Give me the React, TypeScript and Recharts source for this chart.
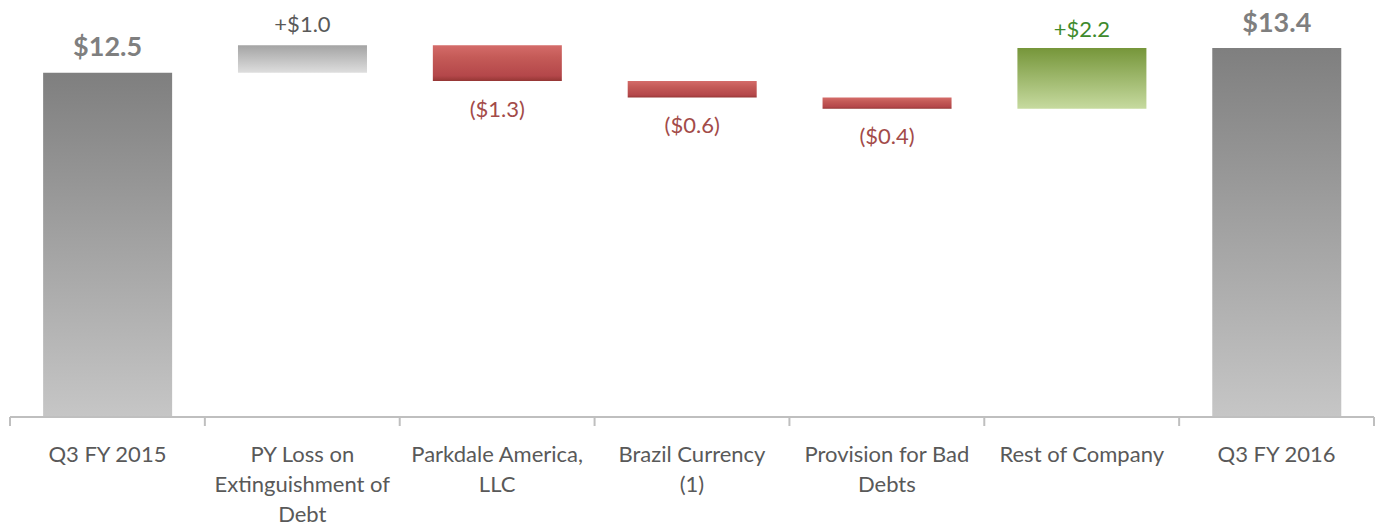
import React from "react";
import { BarChart, Bar, XAxis, YAxis, Cell, LabelList } from "recharts";

const categories = [
  "Q3 FY 2015",
  "PY Loss on Extinguishment of Debt",
  "Parkdale America, LLC",
  "Brazil Currency (1)",
  "Provision for Bad Debts",
  "Rest of Company",
  "Q3 FY 2016",
];
const tickLines: string[][] = [
  ["Q3 FY 2015"],
  ["PY Loss on", "Extinguishment of", "Debt"],
  ["Parkdale America,", "LLC"],
  ["Brazil Currency", "(1)"],
  ["Provision for Bad", "Debts"],
  ["Rest of Company"],
  ["Q3 FY 2016"],
];
const values = [12.5, 1.0, -1.3, -0.6, -0.4, 2.2, 13.4];
const kinds = ["total", "incGray", "dec", "dec", "dec", "incGreen", "total"];

const W = 1377;
const H = 531;
const M = { top: 4, right: 3, left: 10, bottom: 0 };
const BW = (W - M.left - M.right) / categories.length;

// Build waterfall rows
let running = 0;
const data = categories.map((name, i) => {
  const v = values[i];
  let base = 0;
  let delta = 0;
  if (kinds[i] === "total") {
    base = 0;
    delta = v;
    running = v;
  } else {
    const start = running;
    const end = running + v;
    base = Math.min(start, end);
    delta = Math.abs(v);
    running = end;
  }
  return { name, base, delta, idx: i };
});

const fills: Record<string, string> = {
  total: "url(#gTotal)",
  incGray: "url(#gGray)",
  dec: "url(#gRed)",
  incGreen: "url(#gGreen)",
};

const fmt = (v: number, kind: string) => {
  const a = Math.abs(v).toFixed(1);
  if (kind === "total") return `$${a}`;
  if (v < 0) return `($${a})`;
  return `+$${a}`;
};

const labelStyle: Record<string, { fill: string; size: number; weight: number; off: number }> = {
  total: { fill: "#7f7f7f", size: 27, weight: 700, off: -27 },
  incGray: { fill: "#595959", size: 22, weight: 400, off: -22 },
  dec: { fill: "#a34b49", size: 22, weight: 400, off: 27 },
  incGreen: { fill: "#3e8a2c", size: 22, weight: 400, off: -20 },
};

const ValueLabel = (props: any) => {
  const { x, y, width, height, index } = props;
  const kind = kinds[index];
  const s = labelStyle[kind];
  const cx = x + width / 2;
  const cy = s.off < 0 ? y + s.off : y + height + s.off;
  return (
    <text
      x={cx}
      y={cy}
      textAnchor="middle"
      dominantBaseline="central"
      fill={s.fill}
      fontSize={s.size}
      fontWeight={s.weight}
      fontFamily="Lato"
    >
      {fmt(values[index], kind)}
    </text>
  );
};

const Tick = (props: any) => {
  const { x, y, payload } = props;
  const i = payload.index;
  const lines = tickLines[i];
  const left = x - BW / 2;
  const right = x + BW / 2;
  return (
    <g>
      <line x1={left} y1={y} x2={left} y2={y + 9} stroke="#bfbfbf" strokeWidth={2} />
      {i === categories.length - 1 && (
        <line x1={right} y1={y} x2={right} y2={y + 9} stroke="#bfbfbf" strokeWidth={2} />
      )}
      {lines.map((ln, k) => (
        <text
          key={k}
          x={x}
          y={y + 36 + k * 30}
          textAnchor="middle"
          dominantBaseline="central"
          fill="#595959"
          fontSize={22}
          fontFamily="Lato"
        >
          {ln}
        </text>
      ))}
    </g>
  );
};

export default function App() {
  return (
    <div style={{ position: "absolute", left: 0, top: 0, background: "#fff" }}>
      <BarChart width={W} height={H} data={data} margin={M} barCategoryGap="17%">
        <defs>
          <linearGradient id="gTotal" x1="0" y1="0" x2="0" y2="1">
            <stop offset="0" stopColor="#7f7f7f" />
            <stop offset="1" stopColor="#c6c6c6" />
          </linearGradient>
          <linearGradient id="gGray" x1="0" y1="0" x2="0" y2="1">
            <stop offset="0" stopColor="#a4a4a4" />
            <stop offset="1" stopColor="#dedede" />
          </linearGradient>
          <linearGradient id="gRed" x1="0" y1="0" x2="0" y2="1">
            <stop offset="0" stopColor="#d46b69" />
            <stop offset="0.35" stopColor="#c45a57" />
            <stop offset="0.85" stopColor="#b4474a" />
            <stop offset="1" stopColor="#943634" />
          </linearGradient>
          <linearGradient id="gGreen" x1="0" y1="0" x2="0" y2="1">
            <stop offset="0" stopColor="#76963a" />
            <stop offset="1" stopColor="#c6da9f" />
          </linearGradient>
        </defs>
        <XAxis
          dataKey="name"
          height={114}
          axisLine={{ stroke: "#bfbfbf", strokeWidth: 2 }}
          tickLine={false}
          tickSize={0}
          tickMargin={0}
          interval={0}
          tick={<Tick />}
        />
        <YAxis hide domain={[0, 15]} />
        <Bar dataKey="base" stackId="w" fill="transparent" isAnimationActive={false} />
        <Bar dataKey="delta" stackId="w" isAnimationActive={false}>
          {data.map((d, i) => (
            <Cell key={i} fill={fills[kinds[i]]} />
          ))}
          <LabelList dataKey="delta" content={<ValueLabel />} />
        </Bar>
      </BarChart>
    </div>
  );
}
